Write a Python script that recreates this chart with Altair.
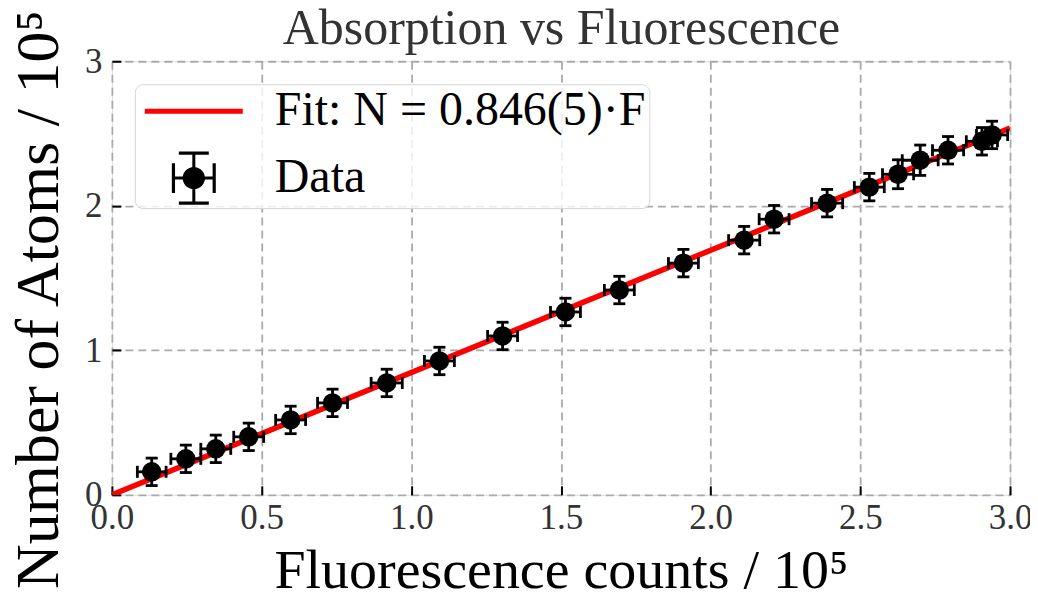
import altair as alt
import pandas as pd

# ---- data ----
fluor = [0.133, 0.247, 0.347, 0.457, 0.597, 0.737, 0.918, 1.094, 1.305, 1.515, 1.695,
         1.909, 2.112, 2.212, 2.389, 2.530, 2.626, 2.700, 2.793, 2.906, 2.940]
atoms = [0.159, 0.249, 0.318, 0.401, 0.518, 0.636, 0.774, 0.926, 1.099, 1.265, 1.417,
         1.603, 1.762, 1.907, 2.018, 2.129, 2.218, 2.315, 2.384, 2.446, 2.490]
fluor_err = [0.048, 0.050, 0.050, 0.050, 0.050, 0.050, 0.052, 0.050, 0.050, 0.050, 0.050,
             0.050, 0.052, 0.050, 0.052, 0.050, 0.052, 0.060, 0.052, 0.052, 0.052]
atoms_err = [0.095, 0.095, 0.095, 0.095, 0.095, 0.095, 0.095, 0.095, 0.095, 0.095, 0.095,
             0.095, 0.095, 0.095, 0.095, 0.095, 0.100, 0.105, 0.095, 0.095, 0.095]

fit_x = [0.0, 3.0]
fit_y = [0.0, 2.538]

fit_label = "Fit: N = 0.846(5)·F"
data_label = "Data"
series_names = [fit_label, data_label]

x_ticks = [0.0, 0.5, 1.0, 1.5, 2.0, 2.5, 3.0]
y_ticks = [0, 1, 2, 3]

title_text = "Absorption vs Fluorescence"
x_title = "Fluorescence counts / 10⁵"
y_title = "Number of Atoms / 10⁵"

FONT = "Liberation Serif"
W, H = 899, 434

pts = pd.DataFrame({"x": fluor, "y": atoms, "xe": fluor_err, "ye": atoms_err})
pts["xlo"] = pts["x"] - pts["xe"]
pts["xhi"] = pts["x"] + pts["xe"]
pts["ylo"] = pts["y"] - pts["ye"]
pts["yhi"] = pts["y"] + pts["ye"]

fit_df = pd.DataFrame({"x": fit_x, "y": fit_y})
legend_df = pd.DataFrame({"series": series_names, "x": [0.0, 0.0], "y": [0.0, 0.0]})

xscale = alt.Scale(domain=[0, 3], nice=False, zero=False)
yscale = alt.Scale(domain=[0, 3], nice=False, zero=False)

# legend symbols (custom paths, unit = sqrt(symbolSize)/2 = 20 px)
line_path = "M -2.45 -0.125 H 2.45 V 0.125 H -2.45 Z"
eb_path = (
    "M -0.56 0 C -0.56 -0.3093 -0.3093 -0.56 0 -0.56 C 0.3093 -0.56 0.56 -0.3093 0.56 0 "
    "C 0.56 0.3093 0.3093 0.56 0 0.56 C -0.3093 0.56 -0.56 0.3093 -0.56 0 Z "
    "M -1.02 -0.075 H 1.02 V 0.075 H -1.02 Z "
    "M -0.075 -1.25 H 0.075 V 1.25 H -0.075 Z "
    "M -1.10 -0.75 H -0.94 V 0.75 H -1.10 Z "
    "M 0.94 -0.75 H 1.10 V 0.75 H 0.94 Z "
    "M -0.75 -1.33 H 0.75 V -1.17 H -0.75 Z "
    "M -0.75 1.17 H 0.75 V 1.33 H -0.75 Z"
)

def make_legend():
    return alt.Legend(
        title=None, orient="top-left", offset=23, padding=3,
        symbolSize=1600, symbolOffset=32, labelOffset=57, symbolStrokeWidth=0,
        labelFontSize=48, labelFont=FONT, labelColor="black", labelLimit=800,
        fillColor="rgba(255,255,255,0.8)", strokeColor="#d4d4d4", cornerRadius=8,
        rowPadding=16,
    )

# ---- fit line (also carries the inward tick axes and the chart title) ----
fit = alt.Chart(fit_df).mark_line(color="red", strokeWidth=5.5, clip=True).encode(
    x=alt.X("x:Q", scale=xscale, axis=alt.Axis(
        orient="top", offset=-H, labels=False, domain=False, grid=False,
        ticks=True, tickSize=9, tickWidth=2, tickColor="black", values=x_ticks,
        title=title_text, titleFontSize=50, titleFont=FONT, titleFontWeight="normal",
        titleColor="#333333", titleBaseline="alphabetic", titleAlign="center",
        titleAngle=0, titleX=W / 2, titleY=-H - 18)),
    y=alt.Y("y:Q", scale=yscale, axis=alt.Axis(
        orient="right", offset=-W, labels=False, domain=False, grid=False,
        ticks=True, tickSize=9, tickWidth=2, tickColor="black", values=y_ticks, title=None)),
)

base = alt.Chart(pts)
EW = 2.8
CAP = 12
xerr = base.mark_rule(color="black", strokeWidth=EW).encode(
    x=alt.X("xlo:Q", scale=xscale, axis=None), x2="xhi:Q",
    y=alt.Y("y:Q", scale=yscale, axis=None))
yerr = base.mark_rule(color="black", strokeWidth=EW).encode(
    x=alt.X("x:Q", scale=xscale, axis=None),
    y=alt.Y("ylo:Q", scale=yscale, axis=None), y2="yhi:Q")
cap_l = base.mark_tick(color="black", orient="vertical", size=CAP, thickness=EW, opacity=1).encode(
    x=alt.X("xlo:Q", scale=xscale, axis=None), y=alt.Y("y:Q", scale=yscale, axis=None))
cap_r = base.mark_tick(color="black", orient="vertical", size=CAP, thickness=EW, opacity=1).encode(
    x=alt.X("xhi:Q", scale=xscale, axis=None), y=alt.Y("y:Q", scale=yscale, axis=None))
cap_b = base.mark_tick(color="black", orient="horizontal", size=CAP, thickness=EW, opacity=1).encode(
    x=alt.X("x:Q", scale=xscale, axis=None), y=alt.Y("ylo:Q", scale=yscale, axis=None))
cap_t = base.mark_tick(color="black", orient="horizontal", size=CAP, thickness=EW, opacity=1).encode(
    x=alt.X("x:Q", scale=xscale, axis=None), y=alt.Y("yhi:Q", scale=yscale, axis=None))

dots = base.mark_circle(color="black", size=380, opacity=1).encode(
    x=alt.X("x:Q", scale=xscale, axis=alt.Axis(
        values=x_ticks, format=".1f", labelFontSize=35, labelFont=FONT, labelColor="#333333",
        labelPadding=6, ticks=False, domain=False, grid=True, labelFlush=False,
        labelOverlap=False, gridDash=[8, 5], gridColor="#aaaaaa", gridWidth=1.8,
        title=x_title, titleFontSize=56, titleFont=FONT,
        titleFontWeight="normal", titleColor="black", titleBaseline="alphabetic",
        titleY=93, titleX=W / 2, titleAlign="center")),
    y=alt.Y("y:Q", scale=yscale, axis=alt.Axis(
        values=y_ticks, format="d", labelFontSize=35, labelFont=FONT, labelColor="#333333",
        labelPadding=10, ticks=False, domain=False, grid=True, labelFlush=False,
        labelOverlap=False, gridDash=[8, 5], gridColor="#aaaaaa", gridWidth=1.8,
        title=y_title, titleFontSize=62, titleFont=FONT,
        titleFontWeight="normal", titleColor="black", titleAngle=270, titleAlign="center",
        titleBaseline="alphabetic", titleX=-54, titleY=238)),
)

leg = alt.Chart(legend_df).transform_filter("false").mark_point(filled=True, opacity=1).encode(
    x=alt.X("x:Q", scale=xscale, axis=None),
    y=alt.Y("y:Q", scale=yscale, axis=None),
    color=alt.Color("series:N", scale=alt.Scale(domain=series_names, range=["red", "black"]),
                    legend=make_legend()),
    shape=alt.Shape("series:N", scale=alt.Scale(domain=series_names, range=[line_path, eb_path]),
                    legend=make_legend()),
)

chart = alt.layer(fit, xerr, yerr, cap_l, cap_r, cap_b, cap_t, dots, leg).resolve_axis(
    x="independent", y="independent"
).properties(
    width=W, height=H,
    autosize=alt.AutoSizeParams(type="none"),
    padding={"left": 104, "top": 53, "right": 20, "bottom": 100},
).configure_view(stroke="black", strokeWidth=2).configure(background="white")

chart.save("out.html", embed_options={"renderer": "svg", "actions": False})
